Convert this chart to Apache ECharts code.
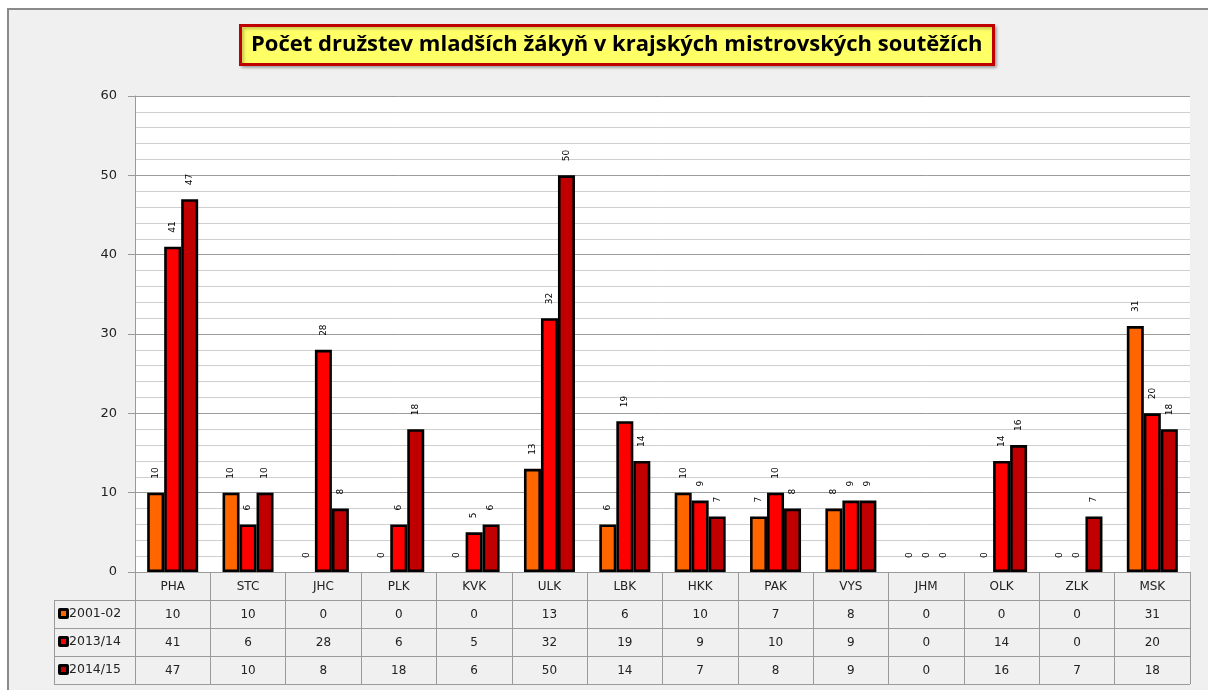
<!DOCTYPE html>
<html><head><meta charset="utf-8">
<script src="https://cdn.jsdelivr.net/npm/echarts@6/dist/echarts.min.js"></script>
<style>html,body{margin:0;padding:0;background:#fff}#c{width:1208px;height:690px}</style>
</head><body><div id="c"></div>
<script>
const categories = ['PHA','STC','JHC','PLK','KVK','ULK','LBK','HKK','PAK','VYS','JHM','OLK','ZLK','MSK'];
const seriesNames = ['2001-02','2013/14','2014/15'];
const s2001 = [10,10,0,0,0,13,6,10,7,8,0,0,0,31];
const s2013 = [41,6,28,6,5,32,19,9,10,9,0,14,0,20];
const s2014 = [47,10,8,18,6,50,14,7,8,9,0,16,7,18];
const colors = ['#FF6600','#FF0000','#C00000'];
const yTicks = [0,10,20,30,40,50,60];

const allSeries = [s2001, s2013, s2014];
const G = {left:135, right:18, top:96, bottom:118};
const W = 1208, H = 690, ROW = 28;
const gridBottomY = H - G.bottom;
const tableLeft = 54;
const lineCol = '#9a9a9a';
const font = 'DejaVu Sans';

const chart = echarts.init(document.getElementById('c'), null, {renderer:'canvas'});

const graphics = [
  {type:'rect', z:-10, shape:{x:8,y:9,width:W+20,height:H+20}, style:{fill:'#f0f0f0', stroke:'#8a8a8a', lineWidth:2}, silent:true}
];
for (let k = 1; k <= 4; k++) {
  const y = gridBottomY + ROW*k + 0.5;
  graphics.push({type:'line', shape:{x1:tableLeft, y1:y, x2:W-G.right, y2:y}, style:{stroke:lineCol, lineWidth:1}, silent:true});
}
graphics.push({type:'line', shape:{x1:tableLeft+0.5, y1:gridBottomY+ROW, x2:tableLeft+0.5, y2:gridBottomY+ROW*4}, style:{stroke:lineCol, lineWidth:1}, silent:true});
seriesNames.forEach((n, k) => {
  const cy = gridBottomY + ROW*(k+1) + ROW/2;
  graphics.push({type:'rect', shape:{x:58, y:cy-6, width:11, height:11, r:2}, style:{fill:'#000'}, silent:true});
  graphics.push({type:'rect', shape:{x:61, y:cy-3, width:5, height:5}, style:{fill:colors[k]}, silent:true});
  graphics.push({type:'text', x:69, y:cy, style:{text:n, font:'12.5px "DejaVu Sans"', fill:'#222', verticalAlign:'middle', align:'left'}, silent:true});
});

const xAxes = [{
  type:'category', data:categories, position:'bottom',
  axisLine:{lineStyle:{color:lineCol, width:1}},
  axisTick:{show:true, length:ROW*4, lineStyle:{color:lineCol}},
  axisLabel:{margin:9, fontSize:12, fontFamily:font, color:'#222'},
  splitLine:{show:false}
}];
allSeries.forEach((arr, k) => {
  xAxes.push({
    type:'category', data:categories, position:'bottom', offset:ROW*(k+1),
    axisLine:{show:false}, axisTick:{show:false}, splitLine:{show:false},
    axisLabel:{margin:9, fontSize:12, fontFamily:font, color:'#222', formatter:(v, i) => String(arr[i])}
  });
});

const series = allSeries.map((arr, k) => ({
  name: seriesNames[k], type:'bar', xAxisIndex:0, barWidth:17, barGap:'0%',
  itemStyle:{color:colors[k], borderColor:'#000', borderWidth:2.6},
  label:{show:true, position:'top', rotate:90, distance:14, align:'left', verticalAlign:'middle',
         fontSize:9, fontFamily:font, color:'#000'},
  data: arr.map(v => v === 0 ? {value:v, itemStyle:{borderWidth:0}} : v)
}));

chart.setOption({
  animation:false,
  backgroundColor:'#ffffff',
  title:{
    text:'Počet družstev mladších žákyň v krajských mistrovských soutěžích',
    left:240, top:25,
    padding:[9,11,9,11],
    backgroundColor:'#FFFF66', borderColor:'#C00000', borderWidth:3,
    shadowColor:'rgba(0,0,0,0.25)', shadowBlur:3, shadowOffsetX:2, shadowOffsetY:2,
    textStyle:{fontFamily:'Open Sans', fontWeight:'bold', fontSize:22, color:'#000'}
  },
  grid:{left:G.left, right:G.right, top:G.top, bottom:G.bottom, show:true, backgroundColor:'#ffffff', borderWidth:0},
  xAxis: xAxes,
  yAxis:{
    type:'value', min:yTicks[0], max:yTicks[yTicks.length-1], interval:10,
    axisLine:{show:true, lineStyle:{color:lineCol}},
    axisTick:{show:true, length:7, lineStyle:{color:lineCol}},
    axisLabel:{margin:18, fontSize:13, fontFamily:font, color:'#222'},
    splitLine:{show:true, lineStyle:{color:'#9c9c9c', width:1}},
    minorTick:{show:false, splitNumber:5},
    minorSplitLine:{show:true, lineStyle:{color:'#cfcfcf', width:1}}
  },
  graphic: graphics,
  series: series
});
</script></body></html>
